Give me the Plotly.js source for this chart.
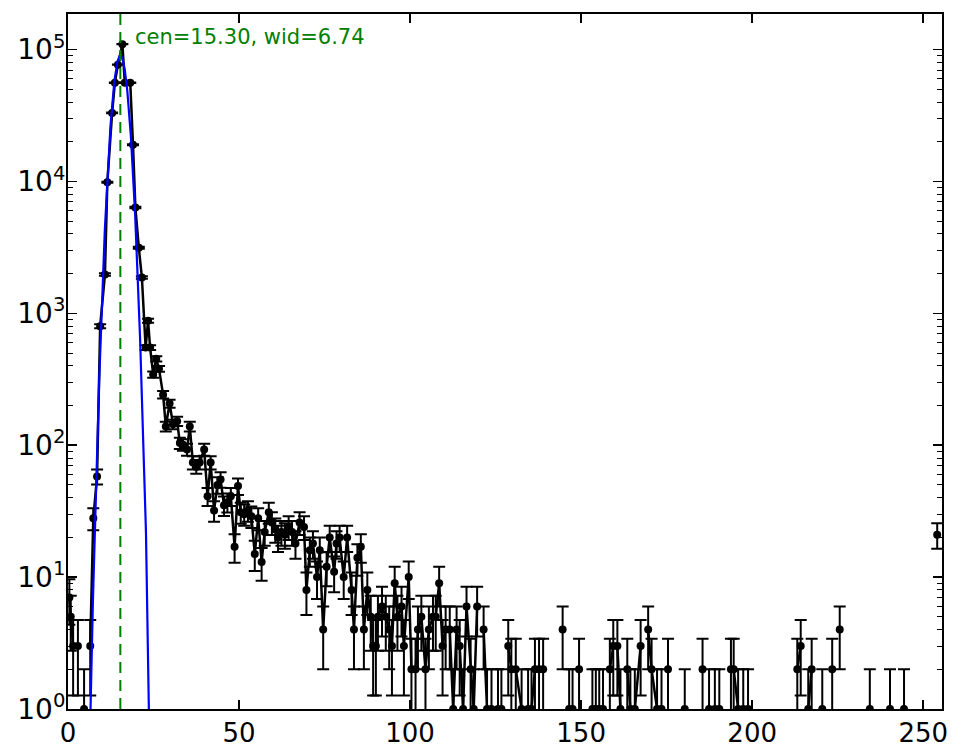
<!DOCTYPE html>
<html><head><meta charset="utf-8">
<script src="https://cdn.plot.ly/plotly-3.0.1.min.js"></script>
<style>html,body{margin:0;padding:0;background:#fff}#chart{width:965px;height:756px}</style>
</head><body><div id="chart"></div>
<script>
// bin positions (x)
const binX = [0.4,0.8,1.5,2.9,4.7,6.5,7.4,8.5,9.4,10.8,
  11.5,12.9,13.7,14.6,15.9,16.6,18.2,19.0,19.7,20.7,
  21.6,22.7,23.4,24.0,24.9,25.8,26.6,27.8,28.6,29.7,
  30.7,31.9,32.7,33.6,34.8,35.6,36.5,37.5,38.5,39.8,
  40.8,41.7,42.7,43.7,44.6,45.6,46.6,47.6,48.7,49.7,
  50.5,51.5,52.6,53.6,54.6,55.6,56.6,57.5,58.7,59.6,
  60.6,61.4,62.4,63.4,64.5,65.5,66.5,67.7,69.0,69.7,
  70.7,71.6,72.8,73.6,74.6,75.6,76.5,77.8,78.5,79.4,
  80.6,81.6,82.9,83.6,84.6,85.6,86.5,87.5,88.5,89.2,
  90.0,90.6,91.8,92.9,93.9,94.7,95.5,96.3,97.5,98.2,
  99.6,100.4,101.6,102.3,103.3,104.5,105.5,106.7,107.5,108.5,
  109.5,110.4,111.6,112.6,113.6,114.5,115.5,116.5,117.7,118.6,
  119.6,121.5,122.5,123.8,125.7,126.7,128.7,129.6,130.9,132.6,
  134.5,135.5,136.5,137.7,138.9,144.6,146.5,147.5,149.4,153.3,
  154.3,155.3,156.4,158.4,159.4,160.6,161.5,163.5,164.4,165.7,
  167.4,169.6,170.6,172.2,173.5,175.4,180.3,185.5,187.4,189.1,
  190.4,193.8,194.6,195.9,197.4,198.8,213.2,214.2,216.4,217.4,
  220.5,223.4,225.6,234.4,240.3,244.4,254.1];
// counts per bin
const counts = [7,5,3,3,1,3,28,58,800,1970,
  9860,33100,56000,76900,110000,56000,56000,19000,6340,3150,
  1870,550,880,550,344,452,380,242,139,207,
  144,152,104,101,93,139,74,69,74,93,
  41,74,32,50,55,35,37,41,17,49,
  31,30,32,29,15,28,13,22,31,26,
  23,20,22,21,24,22,18,26,24,8,
  16,18,10,16,4,12,20,11,18,20,
  10,20,8,4,14,17,4,8,5,3,
  3,5,6,5,4,3,9,5,6,3,
  10,2,2,4,5,2,4,5,5,9,
  3,4,4,1,4,3,1,6,2,1,
  6,4,1,1,1,1,3,2,2,1,
  1,1,2,2,2,4,1,1,2,1,
  1,1,1,2,3,3,1,2,1,1,
  3,4,2,1,1,2,1,2,1,1,
  1,2,2,1,1,1,2,3,1,2,
  1,2,4,1,1,1,21];
// fit parameters (as printed on the chart)
const fitAmp = 90000;
const fitCen = 15.30;
const fitWid = 6.74;
const yTickVals = [1,10,100,1000,10000,100000];
const yTickText = ['10<sup>0</sup>','10<sup>1</sup>','10<sup>2</sup>','10<sup>3</sup>','10<sup>4</sup>','10<sup>5</sup>'];
const xTickVals = [0,50,100,150,200,250];

// build data trace with breaks over empty bins
const dx = [], dy = [], de = [];
for (let i = 0; i < binX.length; i++) {
  if (i > 0 && binX[i] - binX[i-1] > 1.75) { dx.push(null); dy.push(null); de.push(null); }
  dx.push(binX[i]); dy.push(counts[i]); de.push(Math.sqrt(counts[i]));
}
// fit curve evaluated from its parameters
const fx = [], fy = [];
for (let k = 0; k <= 700; k++) {
  const x = k * 0.05;
  fx.push(x); fy.push(fitAmp * Math.exp(-Math.pow(x - fitCen, 2) / fitWid));
}

const traces = [
  {x: dx, y: dy, type: 'scatter', mode: 'lines+markers', connectgaps: false,
   line: {color: '#000', width: 2.5}, marker: {color: '#000', size: 8},
   error_y: {type: 'data', array: de, visible: true, color: '#000', thickness: 2, width: 6},
   hoverinfo: 'x+y'},
  {x: fx, y: fy, type: 'scatter', mode: 'lines', line: {color: '#0000ff', width: 2.2}},
  {x: [fitCen, fitCen], y: [1, 1e6], type: 'scatter', mode: 'lines',
   line: {color: '#008000', width: 2, dash: '11px,7px'}}
];

const layout = {
  width: 965, height: 756,
  margin: {l: 68, r: 23, t: 14, b: 47, pad: 0},
  paper_bgcolor: '#fff', plot_bgcolor: '#fff',
  showlegend: false,
  font: {family: 'DejaVu Sans, sans-serif', size: 26, color: '#000'},
  xaxis: {range: [0, 255.5], tickmode: 'array', tickvals: xTickVals,
    ticks: 'inside', ticklen: 9, tickwidth: 1.5, tickcolor: '#000',
    showline: true, linewidth: 2, linecolor: '#000', mirror: 'allticks',
    showgrid: false, zeroline: false, tickfont: {size: 26, family: 'DejaVu Sans'}},
  yaxis: {type: 'log', range: [0, 5.27], tickmode: 'array', tickvals: yTickVals, ticktext: yTickText,
    ticks: 'inside', ticklen: 9, tickwidth: 1.5, tickcolor: '#000',
    minor: {ticks: 'inside', ticklen: 5, tickwidth: 1, tickcolor: '#000', dtick: 'D1', showgrid: false},
    showline: true, linewidth: 2, linecolor: '#000', mirror: 'allticks', ticklabelstandoff: -5,
    showgrid: false, zeroline: false, tickfont: {size: 28, family: 'DejaVu Sans'}},
  annotations: [{
    text: 'cen=15.30, wid=6.74', xref: 'x', yref: 'paper', x: 19.0, y: 0.967,
    xanchor: 'left', yanchor: 'middle', showarrow: false,
    font: {family: 'DejaVu Sans', size: 21, color: '#008000'}
  }]
};
Plotly.newPlot('chart', traces, layout, {displayModeBar: false, staticPlot: true});
</script>
</body></html>
